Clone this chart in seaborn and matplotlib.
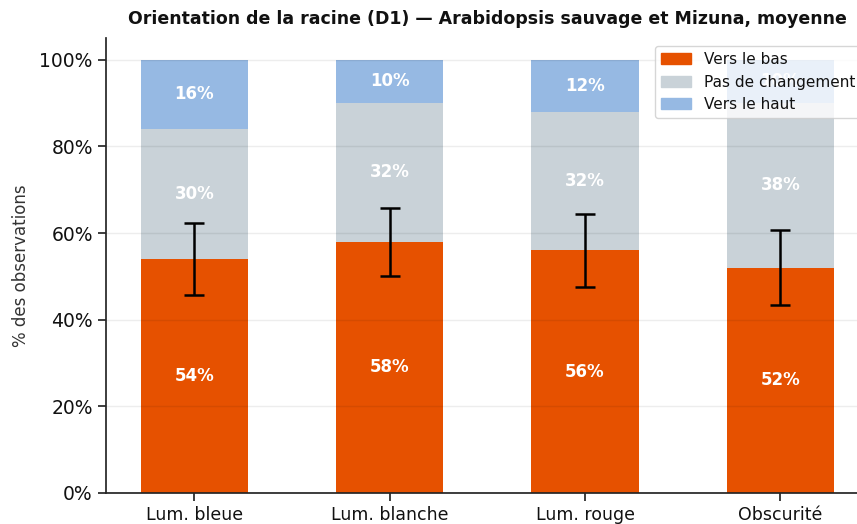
import pandas as pd
import numpy as np
import matplotlib
matplotlib.use('Agg')
import matplotlib.pyplot as plt
import seaborn as sns

# data
conditions = ['Lum. bleue', 'Lum. blanche', 'Lum. rouge', 'Obscurité']
vers_le_bas = [54, 58, 56, 52]
pas_de_changement = [30, 32, 32, 38]
vers_le_haut = [16, 10, 12, 10]
erreur_bas = [8.3, 7.9, 8.5, 8.6]

series_labels = ['Vers le bas', 'Pas de changement', 'Vers le haut']
colors = ['#e65100', '#c9d2d8', '#96b9e3']

sns.set_theme(style='ticks')
plt.rcParams['font.family'] = ['DejaVu Sans']
plt.rcParams['text.color'] = '#111111'
plt.rcParams['xtick.labelcolor'] = '#111111'
plt.rcParams['ytick.labelcolor'] = '#111111'

df = pd.DataFrame({
    'condition': conditions,
    'bas': vers_le_bas,
    'nochange': pas_de_changement,
    'haut': vers_le_haut,
})
# cumulative tops for the stacked look
df['top_bas'] = df['bas']
df['top_nochange'] = df['bas'] + df['nochange']
df['top_haut'] = df['top_nochange'] + df['haut']

fig = plt.figure(figsize=(8.57, 5.24), dpi=100)
ax = fig.add_axes([0.1237, 0.0592, 0.890, 0.868])

width = 0.55
for col, c in zip(['top_haut', 'top_nochange', 'top_bas'], colors[::-1]):
    sns.barplot(data=df, x='condition', y=col, color=c, width=width,
                saturation=1, ax=ax, errorbar=None, linewidth=0, zorder=1)

# error bars on the "vers le bas" segment
x = np.arange(len(conditions))
ax.errorbar(x, df['bas'], yerr=erreur_bas, fmt='none', ecolor='black',
            elinewidth=1.8, capsize=7, capthick=1.8, zorder=4)

# segment labels
for i in range(len(conditions)):
    segs = [(0, df['bas'][i]), (df['bas'][i], df['nochange'][i]),
            (df['top_nochange'][i], df['haut'][i])]
    for bottom, h in segs:
        ax.text(i, bottom + h / 2, f'{h}%', ha='center', va='center',
                color='white', fontsize=12, fontweight='bold', zorder=3)

ax.set_xlim(-0.4525, 3.4525)
ax.set_ylim(0, 105)
ax.set_yticks([0, 20, 40, 60, 80, 100])
ax.set_yticklabels([f'{v}%' for v in [0, 20, 40, 60, 80, 100]])
ax.tick_params(axis='x', labelsize=12.5)
ax.tick_params(axis='y', labelsize=13.5)
ax.set_xlabel('')
ax.set_ylabel('% des observations', fontsize=12, labelpad=7, color='#333333')
ax.yaxis.grid(True, color='black', linewidth=1, alpha=0.07)
ax.set_axisbelow(False)
sns.despine(ax=ax)
ax.set_title('Orientation de la racine (D1) — Arabidopsis sauvage et Mizuna, moyenne',
             fontsize=12.5, fontweight='bold', pad=10)

handles = [plt.Rectangle((0, 0), 1, 1, color=c) for c in colors]
ax.legend(handles, series_labels, loc='upper right', fontsize=11, frameon=True)

fig.savefig('out.png', dpi=100)
